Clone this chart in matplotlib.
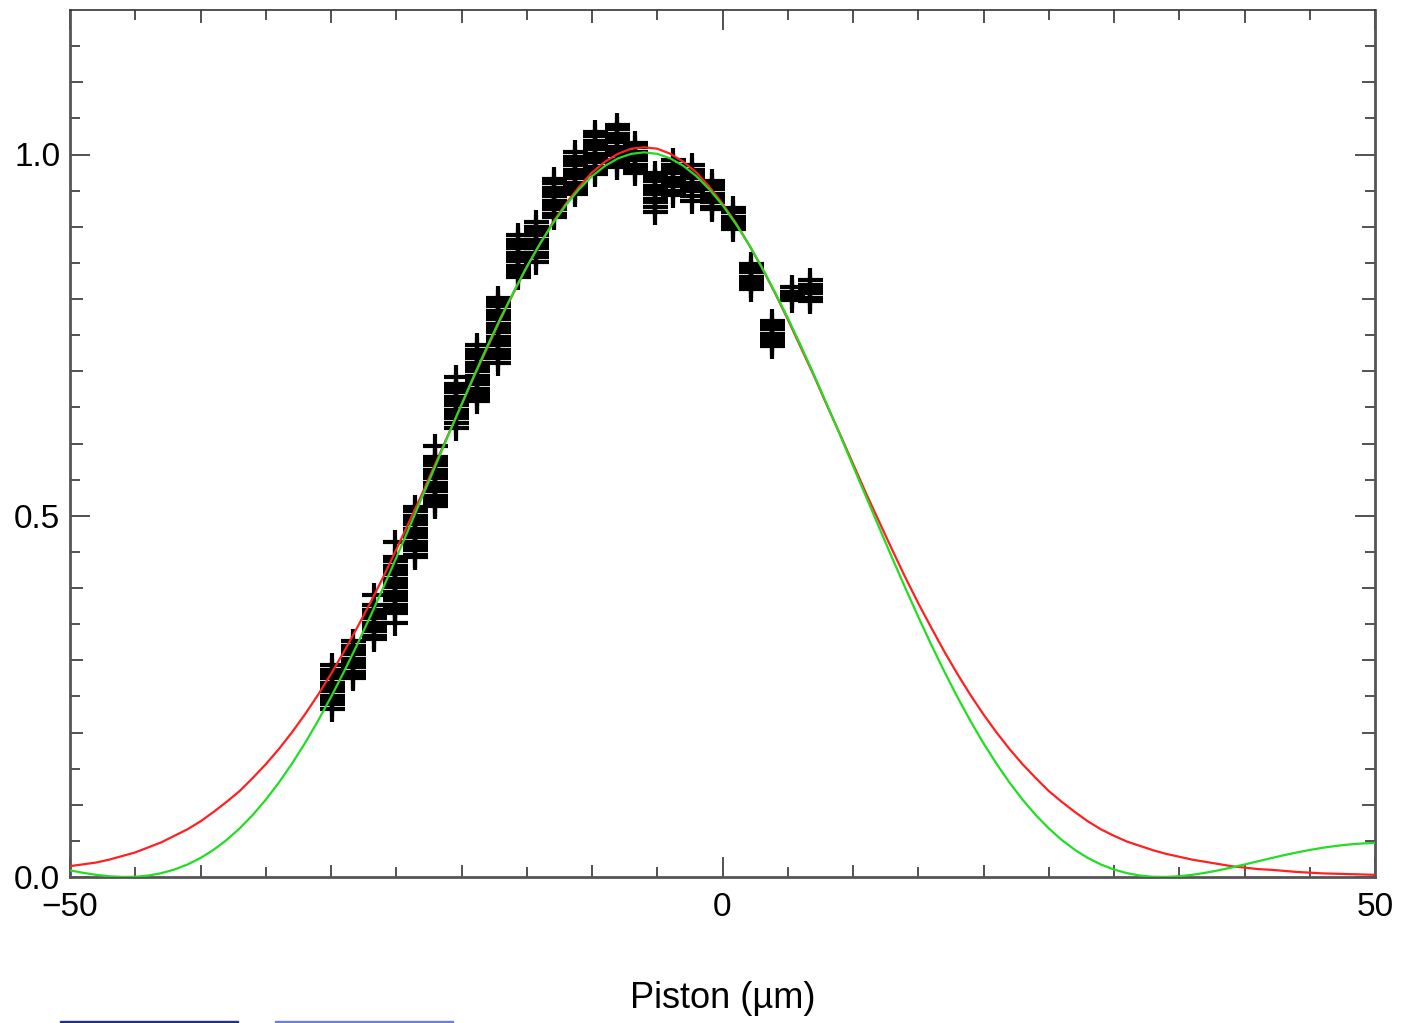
import matplotlib
matplotlib.use('Agg')
import matplotlib.pyplot as plt
from matplotlib.patches import Rectangle

plt.rcParams['font.family'] = ['Liberation Sans', 'DejaVu Sans']

# piston positions of each scan step (um) and the measured visibilities at that step
piston = [-29.9, -28.3, -26.7, -25.1, -23.6, -22.0, -20.4, -18.8, -17.2, -15.7,
          -14.3, -12.9, -11.3, -9.8, -8.1, -6.7, -5.2, -3.8, -2.3, -0.8,
          0.8, 2.2, 3.8, 5.3, 6.7]
vis = [
    [0.293, 0.287, 0.281, 0.275, 0.269, 0.263, 0.257, 0.251, 0.245, 0.239, 0.232],
    [0.326, 0.320, 0.314, 0.308, 0.302, 0.296, 0.290, 0.284, 0.278, 0.275],
    [0.390, 0.376, 0.370, 0.364, 0.358, 0.352, 0.346, 0.340, 0.334, 0.330],
    [0.463, 0.443, 0.437, 0.431, 0.425, 0.419, 0.413, 0.407, 0.401, 0.395, 0.389,
     0.383, 0.377, 0.371, 0.366, 0.352],
    [0.512, 0.506, 0.500, 0.494, 0.488, 0.482, 0.476, 0.470, 0.464, 0.458, 0.452,
     0.446, 0.443],
    [0.597, 0.582, 0.576, 0.570, 0.564, 0.558, 0.552, 0.546, 0.540, 0.534, 0.528,
     0.522, 0.516, 0.513],
    [0.692, 0.683, 0.677, 0.671, 0.665, 0.659, 0.653, 0.647, 0.641, 0.635, 0.629, 0.622],
    [0.736, 0.730, 0.724, 0.718, 0.712, 0.706, 0.700, 0.694, 0.688, 0.682, 0.676,
     0.670, 0.664, 0.659],
    [0.802, 0.796, 0.790, 0.784, 0.778, 0.772, 0.766, 0.760, 0.754, 0.748, 0.742,
     0.736, 0.730, 0.724, 0.718, 0.712],
    [0.888, 0.882, 0.876, 0.870, 0.864, 0.858, 0.852, 0.846, 0.840, 0.834, 0.830],
    [0.906, 0.900, 0.894, 0.888, 0.882, 0.876, 0.870, 0.864, 0.858, 0.851],
    [0.966, 0.960, 0.954, 0.948, 0.942, 0.936, 0.930, 0.924, 0.918, 0.914],
    [1.003, 0.997, 0.991, 0.985, 0.979, 0.973, 0.967, 0.961, 0.955, 0.949, 0.946],
    [1.031, 1.025, 1.019, 1.013, 1.007, 1.001, 0.995, 0.989, 0.983, 0.977, 0.973],
    [1.041, 1.035, 1.029, 1.023, 1.017, 1.011, 1.005, 0.999, 0.993, 0.987, 0.983],
    [1.016, 1.010, 1.004, 0.998, 0.992, 0.986, 0.980, 0.975],
    [0.975, 0.969, 0.963, 0.957, 0.951, 0.945, 0.939, 0.934, 0.927, 0.921],
    [0.992, 0.986, 0.980, 0.974, 0.968, 0.962, 0.956, 0.950, 0.944],
    [0.985, 0.979, 0.973, 0.967, 0.961, 0.955, 0.949, 0.943, 0.936],
    [0.964, 0.958, 0.952, 0.946, 0.940, 0.934, 0.928, 0.925],
    [0.926, 0.920, 0.914, 0.908, 0.902, 0.897],
    [0.849, 0.843, 0.837, 0.831, 0.825, 0.819, 0.814],
    [0.770, 0.764, 0.758, 0.752, 0.746, 0.740, 0.735],
    [0.816, 0.810, 0.804, 0.798],
    [0.826, 0.820, 0.814, 0.808, 0.802, 0.797],
]

# fitted envelopes, every 1 um from -50 to 50
fit_x = list(range(-50, 51))
gauss_fit = [
    0.015, 0.0175, 0.020, 0.024, 0.029, 0.034, 0.041, 0.048, 0.057, 0.066,
    0.077, 0.090, 0.104, 0.119, 0.137, 0.156, 0.177, 0.200, 0.225, 0.252,
    0.281, 0.312, 0.345, 0.379, 0.415, 0.453, 0.492, 0.531, 0.572, 0.613,
    0.653, 0.694, 0.733, 0.772, 0.809, 0.844, 0.876, 0.906, 0.932, 0.955,
    0.975, 0.990, 1.001, 1.008, 1.010, 1.008, 1.001, 0.990, 0.975, 0.955,
    0.932, 0.906, 0.876, 0.844, 0.809, 0.772, 0.733, 0.694, 0.653, 0.613,
    0.572, 0.531, 0.492, 0.453, 0.415, 0.379, 0.345, 0.312, 0.281, 0.252,
    0.225, 0.200, 0.177, 0.156, 0.137, 0.119, 0.104, 0.090, 0.077, 0.066,
    0.057, 0.049, 0.043, 0.037, 0.032, 0.028, 0.024, 0.021, 0.018, 0.015,
    0.013, 0.011, 0.010, 0.0085, 0.007, 0.006, 0.005, 0.0045, 0.004, 0.0035,
    0.003]
sinc_fit = [
    0.0092, 0.0058, 0.0030, 0.0010, 0.0001, 0.0003, 0.0020, 0.0053, 0.0103, 0.0173,
    0.0263, 0.0376, 0.0512, 0.0673, 0.0858, 0.1069, 0.1305, 0.1566, 0.1851, 0.2160,
    0.2491, 0.2843, 0.3214, 0.3602, 0.4004, 0.4417, 0.4838, 0.5265, 0.569, 0.6121,
    0.654, 0.6955, 0.7355, 0.7739, 0.810, 0.8445, 0.876, 0.9045, 0.930, 0.9517,
    0.970, 0.9843, 0.9947, 1.0009, 1.003, 1.0009, 0.9947, 0.9843, 0.970, 0.9517,
    0.930, 0.9045, 0.876, 0.8445, 0.810, 0.7739, 0.7355, 0.6955, 0.654, 0.6121,
    0.569, 0.5265, 0.4838, 0.4417, 0.4004, 0.3602, 0.3214, 0.2843, 0.2491, 0.2160,
    0.1851, 0.1566, 0.1305, 0.1069, 0.0858, 0.0673, 0.0512, 0.0376, 0.0263, 0.0173,
    0.0103, 0.0053, 0.0020, 0.0003, 0.0001, 0.0010, 0.0030, 0.0058, 0.0092, 0.0131,
    0.0173, 0.0216, 0.0259, 0.0301, 0.0339, 0.0374, 0.0405, 0.0430, 0.0450, 0.0464,
    0.0472]

fig = plt.figure(figsize=(14.01, 10.23), dpi=100)
ax = fig.add_axes([70 / 1401, 1 - 877 / 1023, 1305 / 1401, 867 / 1023])

xs, ys = [], []
for p, vals in zip(piston, vis):
    xs += [p] * len(vals)
    ys += vals
ax.plot(xs, ys, ls='none', marker='+', ms=18, mew=3.0, color='black', zorder=3)

ax.plot(fit_x, gauss_fit, color='#ff2020', lw=1.6, zorder=4)
ax.plot(fit_x, sinc_fit, color='#22dd22', lw=1.6, zorder=4)

ax.set_xlim(-50, 50)
ax.set_ylim(0, 1.2)

# ticks: three lengths on both axes
x_major = [-50, 0, 50]
x_minor = [v for v in range(-45, 50, 5) if v not in x_major]
ax.set_xticks(x_major)
ax.set_xticklabels(['\u221250', '0', '50'])
ax.set_xticks(x_minor, minor=True)

y_major = [0.0, 0.5, 1.0]
y_minor = [round(0.05 * i, 2) for i in range(1, 24) if i % 10 != 0]
ax.set_yticks(y_major)
ax.set_yticklabels(['0.0', '0.5', '1.0'])
ax.set_yticks(y_minor, minor=True)

ax.tick_params(which='both', direction='in', top=True, right=True,
               color='#222222', width=1.1, labelsize=24)
ax.tick_params(which='major', length=14.5)
ax.tick_params(which='minor', length=7)
ax.tick_params(axis='x', which='major', pad=11)
ax.tick_params(axis='y', which='major', pad=7)

for loc, tick in zip(x_minor, ax.xaxis.get_minor_ticks(len(x_minor))):
    if loc % 10 == 0:
        tick.tick1line.set_markersize(9)
        tick.tick2line.set_markersize(9)
for loc, tick in zip(y_minor, ax.yaxis.get_minor_ticks(len(y_minor))):
    if round(loc * 20) % 2 == 0:
        tick.tick1line.set_markersize(9.5)
        tick.tick2line.set_markersize(9.5)

for side in ['left', 'right', 'bottom']:
    ax.spines[side].set_color('#555555')
    ax.spines[side].set_linewidth(2)
ax.spines['top'].set_color('#333333')
ax.spines['top'].set_linewidth(1.2)

ax.set_xlabel('Piston (\u00b5m)', fontsize=26, va='center')
ax.xaxis.set_label_coords(0.5, (877 - 999) / 867)

# stray blue bars along the bottom edge of the image
fig.patches.append(Rectangle((60 / 1401, 0), 178 / 1401, 2.5 / 1023,
                             transform=fig.transFigure, color='#23307a', zorder=5))
fig.patches.append(Rectangle((275 / 1401, 0), 178 / 1401, 2.5 / 1023,
                             transform=fig.transFigure, color='#7080d0', zorder=5))

fig.savefig('out.png', dpi=100)
